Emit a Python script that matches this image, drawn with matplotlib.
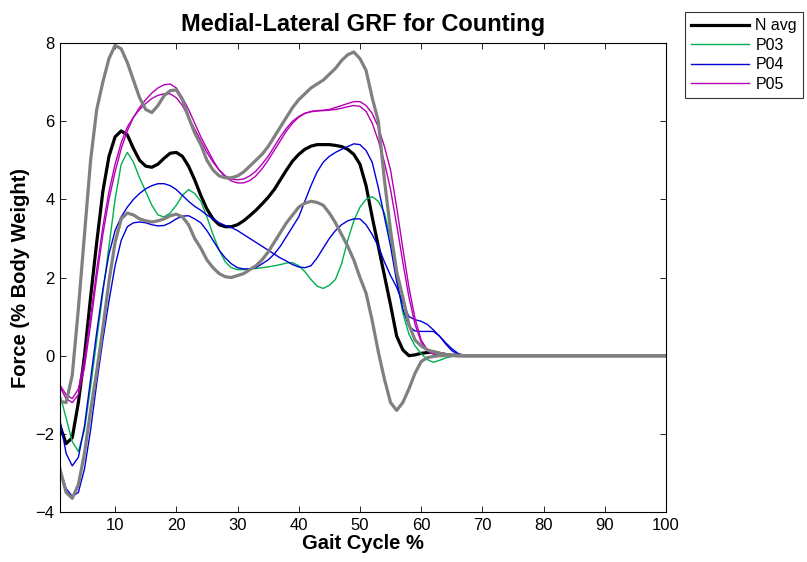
import matplotlib
matplotlib.use("Agg")
import matplotlib.pyplot as plt

plt.rcParams['font.family'] = ['Liberation Sans', 'DejaVu Sans']

gait = list(range(1, 68)) + [100]

n_avg = [-1.8, -2.25, -2.1, -1.2, 0.0, 1.5, 2.9, 4.2, 5.1, 5.6,
         5.75, 5.65, 5.3, 5.0, 4.85, 4.82, 4.9, 5.05, 5.18, 5.2,
         5.1, 4.85, 4.5, 4.1, 3.75, 3.5, 3.35, 3.3, 3.3, 3.35,
         3.45, 3.58, 3.72, 3.88, 4.05, 4.25, 4.5, 4.75, 4.98, 5.15,
         5.28, 5.36, 5.4, 5.4, 5.4, 5.38, 5.35, 5.28, 5.15, 4.9,
         4.35, 3.55, 2.8, 2.05, 1.3, 0.5, 0.15, 0.0, 0.02, 0.06,
         0.08, 0.1, 0.06, 0.03, 0.01, 0.0, 0.0, 0.0]

upper_bound = [-1.17, -1.2, -0.5, 1.2, 3.1, 5.0, 6.3, 7.0, 7.6, 7.94,
               7.85, 7.5, 7.05, 6.6, 6.3, 6.22, 6.4, 6.65, 6.78, 6.8,
               6.55, 6.1, 5.7, 5.4, 5.0, 4.75, 4.6, 4.55, 4.55, 4.6,
               4.7, 4.85, 5.0, 5.15, 5.35, 5.6, 5.85, 6.1, 6.35, 6.55,
               6.7, 6.85, 6.95, 7.05, 7.2, 7.35, 7.55, 7.7, 7.77, 7.6,
               7.3, 6.6, 6.0, 4.5, 3.2, 2.15, 1.5, 0.8, 0.4, 0.25,
               0.15, 0.1, 0.06, 0.03, 0.02, 0.01, 0.0, 0.0]

lower_bound = [-2.9, -3.5, -3.65, -3.3, -2.5, -1.4, -0.4, 0.7, 1.9, 2.9,
               3.5, 3.65, 3.6, 3.5, 3.45, 3.42, 3.45, 3.5, 3.58, 3.62,
               3.55, 3.35, 3.0, 2.75, 2.45, 2.25, 2.1, 2.02, 2.0, 2.05,
               2.1, 2.2, 2.3, 2.45, 2.65, 2.9, 3.15, 3.4, 3.6, 3.8,
               3.9, 3.95, 3.92, 3.85, 3.65, 3.4, 3.1, 2.8, 2.45, 2.0,
               1.6, 0.9, 0.1, -0.6, -1.2, -1.4, -1.2, -0.85, -0.45, -0.15,
               -0.05, -0.02, 0.0, 0.0, 0.0, 0.0, 0.0, 0.0]

p03 = [-1.0, -1.6, -2.2, -2.45, -1.9, -0.8, 0.4, 1.6, 2.8, 4.0,
       4.9, 5.2, 4.95, 4.55, 4.2, 3.85, 3.6, 3.55, 3.65, 3.85,
       4.1, 4.25, 4.15, 3.95, 3.55, 3.1, 2.7, 2.4, 2.25, 2.2,
       2.2, 2.22, 2.23, 2.25, 2.27, 2.3, 2.33, 2.37, 2.38, 2.3,
       2.15, 1.95, 1.78, 1.72, 1.8, 1.95, 2.35, 2.95, 3.45, 3.8,
       4.0, 4.07, 3.95, 3.65, 3.0, 2.0, 1.1, 0.55, 0.25, 0.05,
       -0.1, -0.17, -0.12, -0.06, -0.02, 0.0, 0.0, 0.0]

p04_a = [-1.65, -2.5, -2.82, -2.6, -1.8, -0.6, 0.6, 1.7, 2.6, 3.2,
         3.55, 3.8, 4.0, 4.15, 4.27, 4.35, 4.4, 4.4, 4.35, 4.25,
         4.1, 3.95, 3.82, 3.72, 3.6, 3.5, 3.4, 3.33, 3.28, 3.2,
         3.1, 3.0, 2.9, 2.8, 2.7, 2.6, 2.5, 2.42, 2.33, 2.27,
         2.25, 2.3, 2.5, 2.75, 3.0, 3.2, 3.35, 3.45, 3.5, 3.5,
         3.35, 3.1, 2.8, 2.4, 2.05, 1.75, 1.35, 1.0, 0.92, 0.88,
         0.8, 0.66, 0.5, 0.33, 0.18, 0.06, 0.01, 0.0]

p04_b = [-2.9, -3.4, -3.6, -3.5, -2.9, -1.9, -0.7, 0.4, 1.4, 2.3,
         2.95, 3.3, 3.4, 3.42, 3.4, 3.35, 3.32, 3.33, 3.4, 3.5,
         3.57, 3.58, 3.5, 3.4, 3.2, 2.95, 2.7, 2.5, 2.35, 2.25,
         2.22, 2.22, 2.25, 2.35, 2.45, 2.6, 2.8, 3.05, 3.3, 3.55,
         3.95, 4.35, 4.7, 4.95, 5.1, 5.2, 5.28, 5.35, 5.42, 5.4,
         5.25, 4.95, 4.3, 3.55, 2.8, 1.9, 1.2, 0.75, 0.63, 0.62,
         0.62, 0.62, 0.5, 0.3, 0.13, 0.03, 0.0, 0.0]

p05_a = [-0.8, -1.1, -1.2, -1.0, -0.3, 0.8, 2.0, 3.1, 4.0, 4.7,
         5.3, 5.75, 6.1, 6.35, 6.55, 6.72, 6.85, 6.93, 6.95, 6.85,
         6.6, 6.3, 5.95, 5.6, 5.3, 5.0, 4.75, 4.57, 4.47, 4.42,
         4.42, 4.48, 4.6, 4.78, 5.0, 5.25, 5.5, 5.75, 5.95, 6.1,
         6.2, 6.25, 6.27, 6.28, 6.3, 6.35, 6.4, 6.45, 6.5, 6.5,
         6.4, 6.2, 5.85, 5.35, 4.75, 3.8, 2.75, 1.75, 0.95, 0.4,
         0.15, 0.05, 0.02, 0.0, 0.0, 0.0, 0.0, 0.0]

p05_b = [-0.75, -1.0, -1.1, -0.85, -0.1, 1.0, 2.2, 3.3, 4.2, 4.9,
         5.45, 5.85, 6.1, 6.3, 6.45, 6.58, 6.66, 6.7, 6.7, 6.6,
         6.4, 6.1, 5.8, 5.5, 5.2, 4.95, 4.75, 4.6, 4.52, 4.5,
         4.52, 4.6, 4.72, 4.9, 5.1, 5.35, 5.6, 5.82, 6.0, 6.12,
         6.2, 6.24, 6.26, 6.27, 6.28, 6.3, 6.33, 6.37, 6.4, 6.38,
         6.25, 5.95, 5.5, 4.95, 4.25, 3.35, 2.4, 1.5, 0.8, 0.35,
         0.12, 0.04, 0.01, 0.0, 0.0, 0.0, 0.0, 0.0]

legend_labels = ['N avg', 'P03', 'P04', 'P05']
x_ticks = [10, 20, 30, 40, 50, 60, 70, 80, 90, 100]
y_ticks = [-4, -2, 0, 2, 4, 6, 8]

c_green = '#00b050'
c_blue = '#0000d8'
c_mag = '#b400b4'
c_gray = '#808080'

fig = plt.figure(figsize=(8.07, 5.62), dpi=100)
ax = fig.add_axes([60 / 807, 50 / 562, 606 / 807, 469 / 562])

h_avg, = ax.plot(gait, n_avg, color='black', lw=2.3, label=legend_labels[0])
h3, = ax.plot(gait, p03, color=c_green, lw=1.0, label=legend_labels[1])
h4, = ax.plot(gait, p04_a, color=c_blue, lw=1.0, label=legend_labels[2])
ax.plot(gait, p04_b, color=c_blue, lw=1.0)
h5, = ax.plot(gait, p05_a, color=c_mag, lw=1.0, label=legend_labels[3])
ax.plot(gait, p05_b, color=c_mag, lw=1.0)
ax.plot(gait, upper_bound, color=c_gray, lw=2.3)
ax.plot(gait, lower_bound, color=c_gray, lw=2.3)

ax.set_xlim(1, 100)
ax.set_ylim(-4, 8)
ax.set_xticks(x_ticks)
ax.set_yticks(y_ticks)
ax.tick_params(direction='in', top=True, right=True, length=4, width=0.6,
               labelsize=12, pad=4)
for s in ax.spines.values():
    s.set_linewidth(0.8)

ax.set_title('Medial-Lateral GRF for Counting', fontsize=17, fontweight='bold', pad=9)
ax.set_xlabel('Gait Cycle %', fontsize=14.5, fontweight='bold', labelpad=1)
ax.set_ylabel('Force (% Body Weight)', fontsize=14.5, fontweight='bold', labelpad=4)

leg = fig.legend(handles=[h_avg, h3, h4, h5], loc='upper left',
                 bbox_to_anchor=(685 / 807, 1 - 12 / 562), fontsize=11.5,
                 frameon=True, fancybox=False, edgecolor='black',
                 handlelength=3.6, handletextpad=0.4, labelspacing=0.28,
                 borderpad=0.4, borderaxespad=0)
leg.get_frame().set_linewidth(0.8)

fig.savefig('out.png', dpi=100)
